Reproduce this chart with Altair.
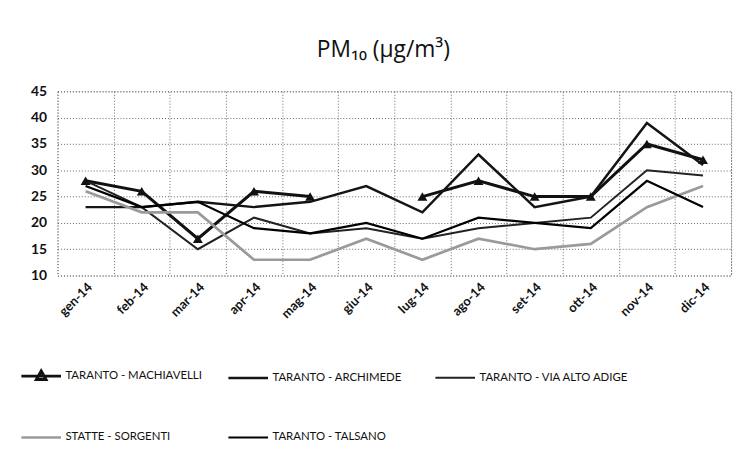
import altair as alt
import pandas as pd

months = ["gen-14", "feb-14", "mar-14", "apr-14", "mag-14", "giu-14",
          "lug-14", "ago-14", "set-14", "ott-14", "nov-14", "dic-14"]

series_names = ["TARANTO - MACHIAVELLI", "TARANTO - ARCHIMEDE",
                "TARANTO - VIA ALTO ADIGE", "STATTE - SORGENTI", "TARANTO - TALSANO"]

machiavelli = [28, 26, 17, 26, 25, None, 25, 28, 25, 25, 35, 32]
archimede = [23, 23, 24, 23, 24, 27, 22, 33, 23, 25, 39, 31]
via_alto_adige = [28, 23, 15, 21, 18, 19, 17, 19, 20, 21, 30, 29]
statte = [26, 22, 22, 13, 13, 17, 13, 17, 15, 16, 23, 27]
talsano = [27, 23, 24, 19, 18, 20, 17, 21, 20, 19, 28, 23]

y_ticks = [10, 15, 20, 25, 30, 35, 40, 45]

# legend is filled column by column (2 rows, 3 columns)
legend_order = ["TARANTO - MACHIAVELLI", "STATTE - SORGENTI", "TARANTO - ARCHIMEDE",
                "TARANTO - TALSANO", "TARANTO - VIA ALTO ADIGE"]
style = {
    "TARANTO - MACHIAVELLI": ("#111111", 3),
    "TARANTO - ARCHIMEDE": ("#141414", 2.6),
    "TARANTO - VIA ALTO ADIGE": ("#222222", 3),
    "STATTE - SORGENTI": ("#9a9a9a", 2),
    "TARANTO - TALSANO": ("#000000", 3.5),
}
colors = [style[s][0] for s in legend_order]
widths = [style[s][1] for s in legend_order]

rows = []
for name, vals in zip(series_names, [machiavelli, archimede, via_alto_adige, statte, talsano]):
    for m, v in zip(months, vals):
        rows.append({"mese": m, "serie": name, "valore": v})
df = pd.DataFrame(rows)

tri_path = "M-1,0L1,0M0,-0.26L0.24,0.17L-0.24,0.17Z"
line_path = "M-1,0L1,0"
legend_shapes = [tri_path if s == "TARANTO - MACHIAVELLI" else line_path for s in legend_order]

x_enc = alt.X("mese:N", sort=months, title=None,
              scale=alt.Scale(type="band", paddingInner=0, paddingOuter=0),
              axis=alt.Axis(labelAngle=-45, labelFontWeight="bold", labelFontSize=13,
                            labelColor="#111", labelFont="Lato", ticks=False, domain=False,
                            grid=True, tickBand="extent", gridDash=[1, 2],
                            gridColor="#666", labelPadding=5))
y_enc = alt.Y("valore:Q", title=None,
              scale=alt.Scale(domain=[10, 45], nice=False, zero=False),
              axis=alt.Axis(values=y_ticks, labelFontWeight="bold", labelOverlap=False,
                            labelFontSize=14, labelColor="#111", labelFont="Lato",
                            ticks=False, domain=False, gridDash=[1, 2], gridColor="#666",
                            labelPadding=11))

legend = alt.Legend(
    title=None, orient="none", legendX=-38, legendY=266,
    columns=3, columnPadding=7, rowPadding=31, gridAlign="all",
    symbolSize=1600, symbolFillColor="#111", symbolOpacity=1,
    labelFontSize=11.5, labelFont="Lato", labelColor="#111",
    labelOffset=3, labelLimit=300)

color_enc = alt.Color("serie:N",
                      scale=alt.Scale(domain=legend_order, range=colors), legend=legend)
width_enc = alt.StrokeWidth("serie:N",
                            scale=alt.Scale(domain=legend_order, range=widths), legend=legend)
shape_enc = alt.Shape("serie:N",
                      scale=alt.Scale(domain=legend_order, range=legend_shapes), legend=legend)

lines = alt.Chart(df).mark_line(invalid="break-paths-show-domains").encode(
    x=x_enc, y=y_enc, color=color_enc, strokeWidth=width_enc,
)

legend_layer = alt.Chart(df).transform_filter("false").mark_point(filled=False).encode(
    x=x_enc, y=y_enc, color=color_enc, strokeWidth=width_enc, shape=shape_enc,
)

points = alt.Chart(df).transform_filter(
    "datum.serie === 'TARANTO - MACHIAVELLI' && isValid(datum.valore)"
).mark_point(shape="triangle-up", filled=True, size=100, color="#111", opacity=1).encode(
    x=x_enc, y=y_enc)

chart = alt.layer(lines, legend_layer, points).properties(
    width=680, height=186,
    autosize="none",
    padding={"left": 50, "top": 82, "right": 10, "bottom": 172},
    title=alt.TitleParams("PM₁₀ (µg/m³)", fontSize=23, font="Open Sans",
                          fontWeight="normal", color="#111", dx=-11, offset=23),
).configure_view(stroke="#777", strokeDash=[1, 2])

chart.save("out.html", embed_options={"renderer": "svg", "actions": False})
